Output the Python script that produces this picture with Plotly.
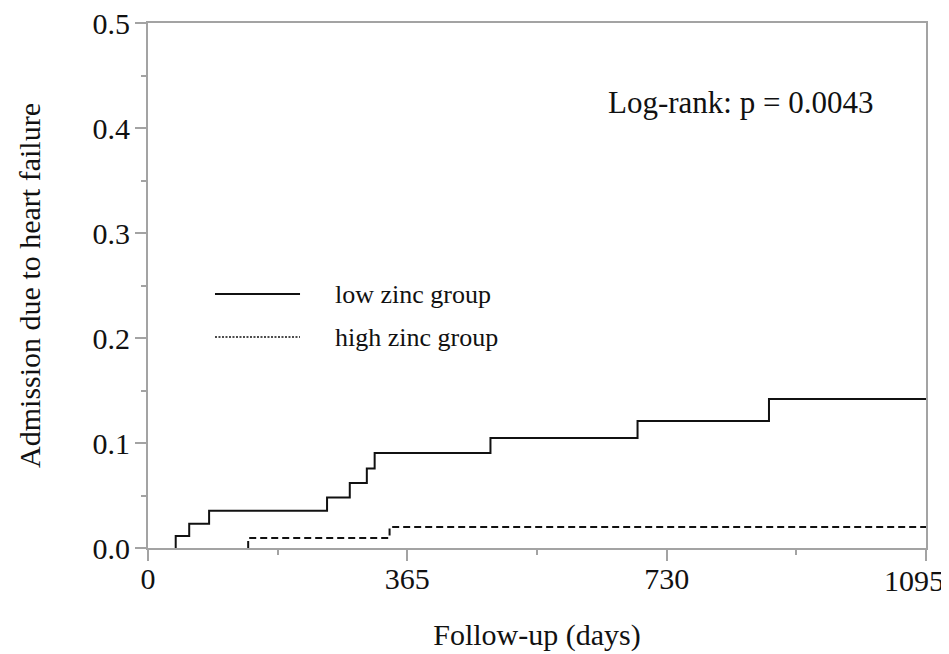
import plotly.graph_objects as go

# Data
low_event_days = [39, 58, 86, 252, 284, 308, 319, 482, 689, 874]
low_cum_incidence = [0.0114, 0.0231, 0.0355, 0.0482, 0.0619, 0.0758, 0.0905, 0.1048, 0.121, 0.1419]
high_event_days = [141, 340]
high_cum_incidence = [0.0095, 0.020]
follow_up_end = 1095
x_tick_vals = [0, 365, 730, 1095]
x_tick_text = ["0", "365", "730", "1095"]
series_names = ["low zinc group", "high zinc group"]
annotation_text = "Log-rank: p = 0.0043"

FONT = "Liberation Serif"
AXIS_COLOR = "#a3a3a3"


def step_xy(days, cum):
    # start at the first event (curve sits on the axis before it)
    xs = list(days) + [follow_up_end]
    ys = [0] + list(cum)
    return xs, ys


lx, ly = step_xy(low_event_days, low_cum_incidence)
hx, hy = step_xy(high_event_days, high_cum_incidence)

fig = go.Figure()
fig.add_trace(go.Scatter(x=lx, y=ly, mode="lines", line_shape="vh", name=series_names[0],
                         line=dict(color="#111111", width=2), showlegend=False))
fig.add_trace(go.Scatter(x=hx, y=hy, mode="lines", line_shape="vh", name=series_names[1],
                         line=dict(color="#111111", width=2, dash="7px,4px"), showlegend=False))

# Manual legend (long sample lines like the reference)
legend_rows = [(0.4838, "solid", 2), (0.4019, "2px,1.5px", 1.5)]
for (yy, dash, w), name in zip(legend_rows, series_names):
    fig.add_shape(type="line", xref="paper", yref="paper", x0=0.0861, x1=0.1954, y0=yy, y1=yy,
                  line=dict(color="#111111", width=w, dash=dash))
    fig.add_annotation(xref="paper", yref="paper", x=0.2378, y=yy, text=name, showarrow=False,
                       xanchor="left", yanchor="middle", font=dict(family=FONT, size=26, color="#111111"))

fig.add_annotation(x=645, y=0.424, xref="x", yref="y", text=annotation_text, showarrow=False,
                   xanchor="left", yanchor="middle", font=dict(family=FONT, size=31, color="#111111"))

# last x tick label is pushed left of its tick so it stays inside the page (as in the reference)
shown_tick_text = x_tick_text[:-1] + [""]
fig.add_annotation(x=x_tick_vals[-1], y=0, xref="x", yref="paper", text=x_tick_text[-1], showarrow=False,
                   xanchor="right", yanchor="middle", xshift=20, yshift=-32,
                   font=dict(family=FONT, size=30, color="#111111"))

# page body has an 8px margin, so the figure is sized to fit the 949x654 window
fig.update_layout(
    width=941, height=646,
    margin=dict(l=140, r=23, t=15, b=106, autoexpand=False),
    paper_bgcolor="white", plot_bgcolor="white",
    font=dict(family=FONT, size=30, color="#111111"),
)
fig.update_xaxes(
    range=[0, follow_up_end], tickvals=x_tick_vals, ticktext=shown_tick_text,
    showgrid=False, zeroline=False, showline=True, mirror=True, linecolor=AXIS_COLOR, linewidth=2,
    ticks="outside", ticklen=11, tickwidth=2, tickcolor=AXIS_COLOR,
    minor=dict(tick0=0, dtick=182.5, ticks="outside", ticklen=5, tickwidth=2, tickcolor=AXIS_COLOR, showgrid=False),
    title=dict(text="Follow-up (days)", font=dict(family=FONT, size=30), standoff=30),
    ticklabelstandoff=-8, ticklabeloverflow="allow", automargin=False,
    layer="above traces",
)
fig.update_yaxes(
    range=[0, 0.5], dtick=0.1, tick0=0, tickformat=".1f",
    showgrid=False, zeroline=False, showline=True, mirror=True, linecolor=AXIS_COLOR, linewidth=2,
    ticks="outside", ticklen=11, tickwidth=2, tickcolor=AXIS_COLOR,
    minor=dict(tick0=0, dtick=0.05, ticks="outside", ticklen=5, tickwidth=2, tickcolor=AXIS_COLOR, showgrid=False),
    title=dict(text="Admission due to heart failure", font=dict(family=FONT, size=30), standoff=43),
    ticklabelstandoff=-1, ticklabeloverflow="allow", automargin=False,
    layer="above traces",
)

fig.write_html("out.html")
